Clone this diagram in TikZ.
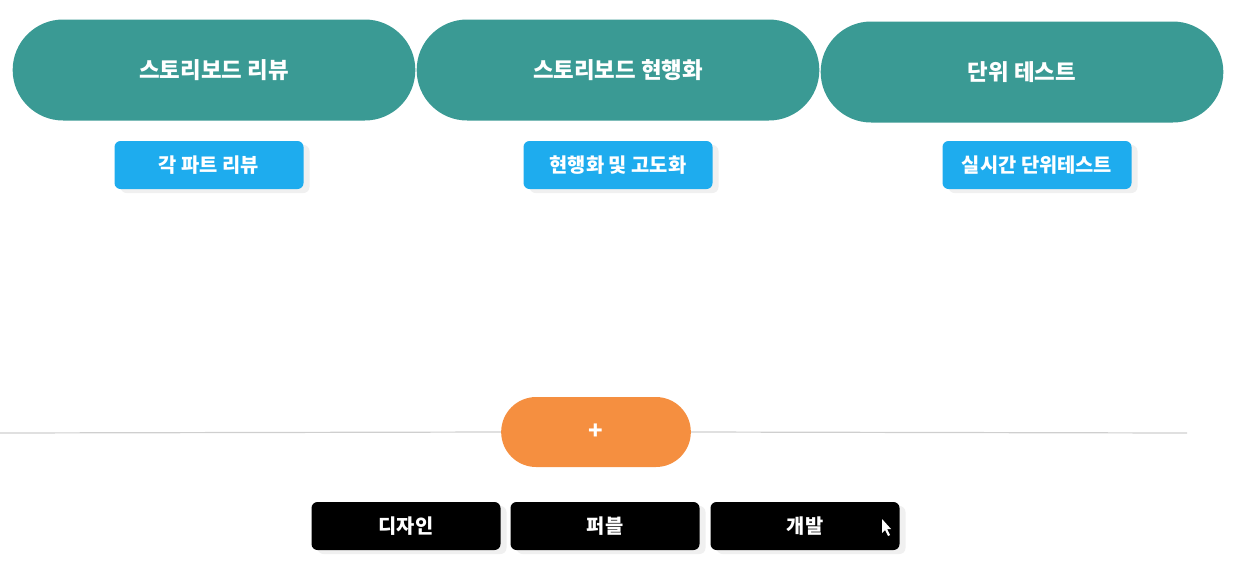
\documentclass[tikz,border=0pt]{standalone}
\usepackage{fontspec}
\setmainfont{Noto Sans CJK KR}
\usepackage{xcolor}
\usetikzlibrary{positioning, shapes.misc, shadows}

\definecolor{stageteal}{HTML}{3A9A94}
\definecolor{taskblue}{HTML}{1EACEE}
\definecolor{addorange}{HTML}{F58F40}
\definecolor{rulegray}{HTML}{CFCFCF}

\begin{document}
\begin{tikzpicture}[
x=0.5pt, y=-0.5pt,
stage/.style={rounded rectangle, fill=stageteal, text=white, minimum width=208pt, minimum height=50.5pt, font=\fontsize{11.2}{13}\selectfont\bfseries},
task/.style={fill=taskblue, text=white, rounded corners=3pt, minimum width=94.5pt, minimum height=24pt, font=\fontsize{9.9}{11}\selectfont\bfseries, drop shadow={shadow xshift=3pt, shadow yshift=-2pt, opacity=0.12}},
addbtn/.style={rounded rectangle, fill=addorange, text=white, minimum width=101.5pt, minimum height=35pt, font=\fontsize{12}{14}\selectfont\bfseries},
tab/.style={fill=black, text=white, rounded corners=3pt, minimum width=94.5pt, minimum height=24pt, font=\fontsize{9.9}{11}\selectfont\bfseries, drop shadow={shadow xshift=3pt, shadow yshift=-2pt, opacity=0.12}}
]
\useasboundingbox (0,0) rectangle (1242,574);

% stages
\node[stage] (st1) at (214,70) {스토리보드 리뷰};
\node[stage] (st2) at (618,70) {스토리보드 현행화};
\node[stage] (st3) at (1022,72) {단위 테스트};

% tasks
\node[task] (tk1) at (209,165) {각 파트 리뷰};
\node[task] (tk2) at (618,165) {현행화 및 고도화};
\node[task] (tk3) at (1037,165) {실시간 단위테스트};

% add button on the rule
\node[addbtn] (add) at (596,432) {+};
\coordinate (ruleL) at (0,433);
\coordinate (ruleR) at (1187,433);
\draw[rulegray, line width=0.6pt] (ruleL) -- (add.west);
\draw[rulegray, line width=0.6pt] (add.east) -- (ruleR);

% tabs
\node[tab] (tb1) at (406,526) {디자인};
\node[tab] (tb2) at (605,526) {퍼블};
\node[tab] (tb3) at (805,526) {개발};

% pointer
\fill[white] (882,519) -- (882,533) -- (885,530) -- (888,536) -- (890,535) -- (887,529) -- (891,529) -- cycle;
\end{tikzpicture}
\end{document}
